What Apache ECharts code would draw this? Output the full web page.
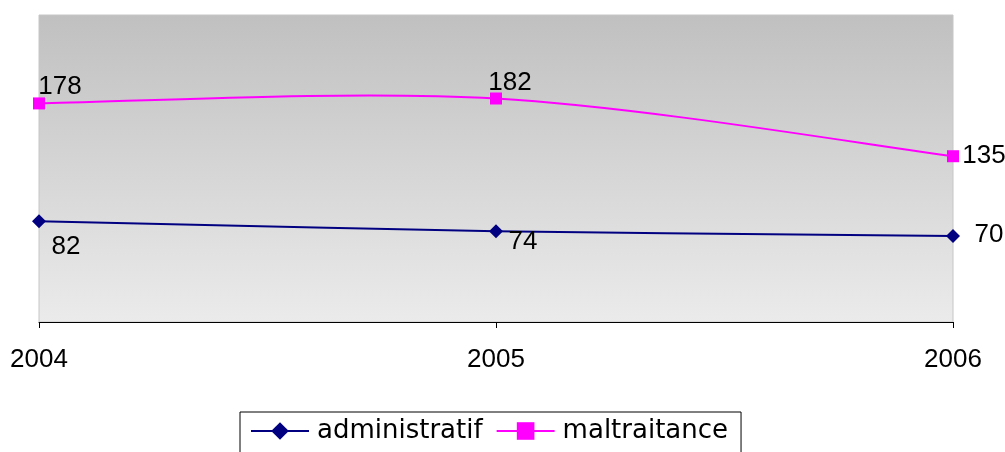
<!DOCTYPE html>
<html>
<head>
<meta charset="utf-8">
<script src="https://cdn.jsdelivr.net/npm/echarts@6/dist/echarts.min.js"></script>
<style>
html, body { margin: 0; padding: 0; background: #fff; }
#chart { width: 1005px; height: 452px; }
</style>
</head>
<body>
<div id="chart"></div>
<script>
var years = ['2004', '2005', '2006'];
var administratif = [82, 74, 70];
var maltraitance = [178, 182, 135];

// décalage des étiquettes (centre du texte par rapport au point)
var adminOffsets = [[27, 26], [27, 11], [36, -1]];
var maltOffsets = [[21, -17], [14, -16], [31, 0]];

var font = 'Liberation Sans';

function withLabels(values, offsets) {
	return values.map(function(v, i) {
		return { value: v, label: { offset: offsets[i] } };
	});
}

// courbe lissée façon Excel (Catmull-Rom, tension 1/6)
function curve(values, color) {
	return {
		type: 'custom',
		name: 'curve',
		silent: true,
		z: 1,
		data: values.map(function(v, i) { return [i, v]; }),
		renderItem: function(params, api) {
			var i = params.dataIndex;
			var n = values.length;
			if (i >= n - 1) return null;
			var p = function(k) {
				k = Math.max(0, Math.min(n - 1, k));
				return api.coord([k, values[k]]);
			};
			var p0 = p(i - 1), p1 = p(i), p2 = p(i + 1), p3 = p(i + 2);
			return {
				type: 'bezierCurve',
				shape: {
					x1: p1[0], y1: p1[1],
					x2: p2[0], y2: p2[1],
					cpx1: p1[0] + (p2[0] - p0[0]) / 6,
					cpy1: p1[1] + (p2[1] - p0[1]) / 6,
					cpx2: p2[0] - (p3[0] - p1[0]) / 6,
					cpy2: p2[1] - (p3[1] - p1[1]) / 6
				},
				style: { stroke: color, fill: null, lineWidth: 2 }
			};
		}
	};
}

var chart = echarts.init(document.getElementById('chart'));
chart.setOption({
	animation: false,
	textStyle: { fontFamily: font },
	grid: {
		left: 39,
		right: 52,
		top: 15,
		bottom: 130,
		show: true,
		borderWidth: 1,
		borderColor: '#c6c6c6',
		backgroundColor: new echarts.graphic.LinearGradient(0, 0, 0, 1, [
			{ offset: 0, color: '#c0c0c0' },
			{ offset: 1, color: '#ebebeb' }
		])
	},
	legend: {
		bottom: -4,
		left: 240,
		itemWidth: 58,
		itemHeight: 22,
		itemGap: 13,
		padding: [6, 13, 12, 10],
		borderColor: '#000',
		borderWidth: 1,
		lineStyle: { width: 2, opacity: 1 },
		textStyle: { fontFamily: 'DejaVu Sans', fontSize: 26, color: '#000', padding: [0, 0, 0, 3] },
		data: ['administratif', 'maltraitance']
	},
	xAxis: {
		type: 'category',
		data: years,
		boundaryGap: false,
		axisLine: { lineStyle: { color: '#000', width: 1 } },
		axisTick: { length: 6, lineStyle: { color: '#000' } },
		axisLabel: { fontSize: 26, color: '#000', margin: 25, fontFamily: font }
	},
	yAxis: {
		type: 'value',
		min: 0,
		max: 250,
		show: false,
		splitLine: { show: false }
	},
	series: [
		curve(administratif, '#000080'),
		curve(maltraitance, '#ff00ff'),
		{
			name: 'administratif',
			type: 'line',
			z: 3,
			symbol: 'diamond',
			symbolSize: 14,
			color: '#000080',
			lineStyle: { width: 2, color: '#000080', opacity: 0 },
			label: { show: true, position: 'inside', fontSize: 26, color: '#000', fontFamily: font },
			data: withLabels(administratif, adminOffsets)
		},
		{
			name: 'maltraitance',
			type: 'line',
			z: 3,
			symbol: 'rect',
			symbolSize: 12,
			color: '#ff00ff',
			lineStyle: { width: 2, color: '#ff00ff', opacity: 0 },
			label: { show: true, position: 'inside', fontSize: 26, color: '#000', fontFamily: font },
			data: withLabels(maltraitance, maltOffsets)
		}
	]
});
</script>
</body>
</html>
